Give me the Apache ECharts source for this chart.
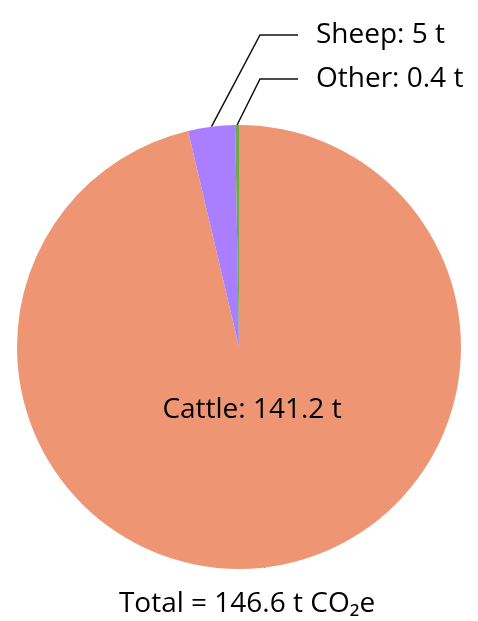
<!DOCTYPE html>
<html>
<head>
<meta charset="utf-8">
<script src="https://cdn.jsdelivr.net/npm/echarts@6/dist/echarts.min.js"></script>
<style>
  html, body { margin: 0; padding: 0; background: #fff; }
  #chart { width: 478px; height: 621px; }
</style>
</head>
<body>
<div id="chart"></div>
<script>
// data
var names = ['Cattle', 'Sheep', 'Other'];
var values = [141.2, 5, 0.4];
var colors = ['#EE9673', '#A97EFF', '#6FA84F'];
var total = 146.6;

var chart = echarts.init(document.getElementById('chart'));

var cx = 239, cy = 347, r = 222;
var font = '"Open Sans", sans-serif';

var pieData = [];
for (var i = 0; i < names.length; i++) {
    pieData.push({ name: names[i], value: values[i], itemStyle: { color: colors[i] } });
}

// point on the rim at the middle of slice i (clockwise from top)
function rimPoint(i) {
    var before = 0;
    for (var k = 0; k < i; k++) before += values[k];
    var sum = 0;
    for (k = 0; k < values.length; k++) sum += values[k];
    var a = (before + values[i] / 2) / sum * Math.PI * 2;
    return [cx + r * Math.sin(a), cy - r * Math.cos(a)];
}

var option = {
    animation: false,
    title: {
        text: 'Total = ' + total + ' t CO\u2082e',
        left: 242,
        textAlign: 'center',
        top: 585,
        textStyle: { fontFamily: font, fontSize: 28, fontWeight: 'normal', color: '#000' }
    },
    series: [{
        type: 'pie',
        center: [cx, cy],
        radius: r,
        startAngle: 90,
        clockwise: true,
        data: pieData,
        label: {
            show: true,
            formatter: function (p) { return p.name + ': ' + p.value + ' t'; },
            fontFamily: font,
            fontSize: 28,
            color: '#000',
            overflow: 'none'
        },
        labelLine: { show: true, lineStyle: { color: '#111', width: 1.5 } },
        emphasis: { disabled: true },
        labelLayout: function (p) {
            if (p.dataIndex === 0) {
                return { x: 252, y: 410, align: 'center', verticalAlign: 'middle' };
            }
            var ty = p.dataIndex === 1 ? 35 : 79;
            var s = rimPoint(p.dataIndex);
            return {
                x: 316, y: ty, align: 'left', verticalAlign: 'middle',
                labelLinePoints: [s, [260, ty], [298, ty]]
            };
        }
    }]
};

chart.setOption(option);
</script>
</body>
</html>
